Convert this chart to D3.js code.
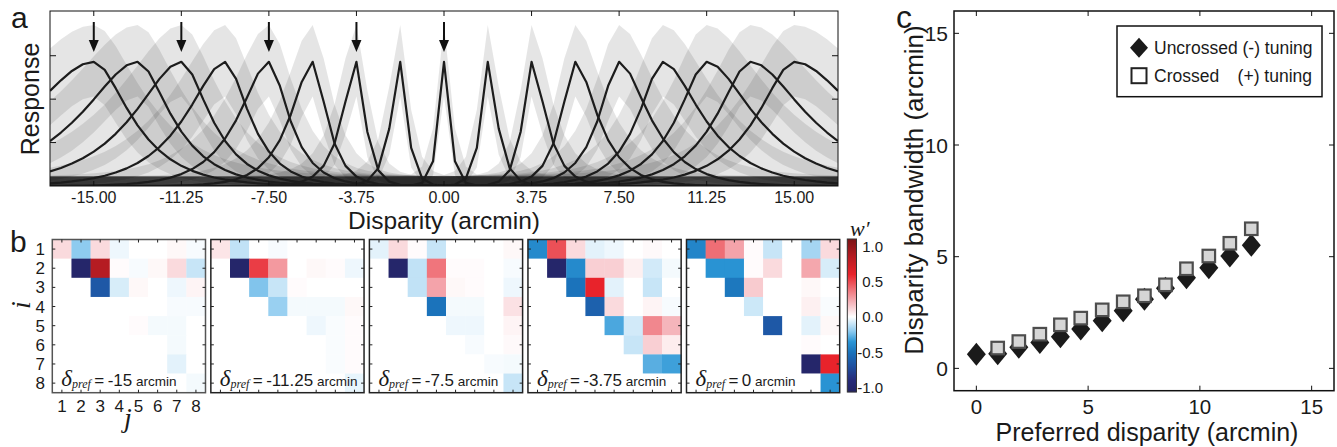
<!DOCTYPE html>
<html><head><meta charset="utf-8">
<script src="https://cdn.jsdelivr.net/npm/d3@7"></script>
<style>
body{margin:0;background:#fff}
svg{display:block}
text{font-family:"Liberation Sans",Arial,Helvetica,sans-serif;fill:#1a1a1a}
.serif{font-family:"Liberation Serif","Times New Roman",serif;font-style:italic}
</style>
</head><body>
<svg id="chart" width="1337" height="447"></svg>
<script>
// ================= DATA =================
// Panel a: population tuning curves (preferred disparity, inner/outer tuning widths, arcmin)
const prefDisparities = [-15,-13.125,-11.25,-9.375,-7.5,-5.625,-3.75,-1.875,0,1.875,3.75,5.625,7.5,9.375,11.25,13.125,15];
const widthOuter = [3.0,2.5,2.1,1.7,1.3,0.95,0.6,0.38,0.22,0.38,0.6,0.95,1.3,1.7,2.1,2.5,3.0];
const widthInner = [1.6,1.45,1.25,1.05,0.85,0.6,0.36,0.28,0.22,0.28,0.36,0.6,0.85,1.05,1.25,1.45,1.6];
const peakResponse = 2.86;
const arrowDisparities = [-15,-11.25,-7.5,-3.75,0];
const disparityTicks = [-15,-11.25,-7.5,-3.75,0,3.75,7.5,11.25,15];
const disparityTickLabels = ["-15.00","-11.25","-7.50","-3.75","0.00","3.75","7.50","11.25","15.00"];
const responseTicks = [1,2,3];

// Panel b: weight matrices w' (rows i, cols j)
const matrixNames = ["-15","-11.25","-7.5","-3.75","0"];
const W_m15 = [
 [0.1,-0.2,0.1,-0.03,0,0,0.02,-0.015],
 [0,-1.0,0.85,0.01,-0.015,0.02,0.1,-0.1],
 [0,0,-0.65,-0.07,0.02,0,-0.03,0.03],
 [0,0,0,0,0,0,-0.015,-0.015],
 [0,0,0,0,0.01,-0.02,-0.02,0],
 [0,0,0,0,0,0,-0.02,0],
 [0,0,0,0,0,0,-0.05,0],
 [0,0,0,0,0,0,0,-0.02]];
const W_m11 = [
 [0.07,-0.11,0,-0.015,0,0,0,0],
 [0,-1.0,0.53,0.28,0,0.02,0.01,-0.03],
 [0,0,-0.22,-0.1,0.01,0,0,0],
 [0,0,0,-0.18,-0.02,-0.02,-0.02,0.02],
 [0,0,0,0,0,-0.03,-0.01,0.01],
 [0,0,0,0,0,0,-0.01,0.01],
 [0,0,0,0,0,0,-0.01,0.01],
 [0,0,0,0,0,0,0,-0.04]];
const W_m7 = [
 [-0.05,0.1,0.01,-0.1,0,0,0,0.02],
 [0,-1.0,-0.11,0.38,0.01,0.01,0,-0.015],
 [0,0,-0.11,0.25,0.02,0.01,0,-0.03],
 [0,0,0,-0.5,-0.02,-0.02,0,0.08],
 [0,0,0,0,-0.03,-0.03,0,0.03],
 [0,0,0,0,0,-0.015,0,0.015],
 [0,0,0,0,0,0,-0.015,-0.02],
 [0,0,0,0,0,0,0,-0.1]];
const W_m3 = [
 [-0.4,0.48,0.1,-0.05,-0.03,0,0.015,0],
 [0,-1.0,-0.4,0.13,0.13,0.04,-0.08,-0.02],
 [0,0,-0.5,0.6,-0.05,0,-0.1,0],
 [0,0,0,-0.6,0.1,0,0.03,-0.015],
 [0,0,0,0,-0.3,-0.08,0.33,0.2],
 [0,0,0,0,0,-0.1,0.13,0.05],
 [0,0,0,0,0,0,-0.28,-0.32],
 [0,0,0,0,0,0,0,0]];
const W_0 = [
 [-0.42,0.4,0.25,0.01,-0.1,0,-0.16,0.1],
 [0,-0.36,-0.36,0.01,0.1,0,0.24,-0.07],
 [0,0,-0.48,0.14,0,0,0.02,0],
 [0,0,0,-0.09,0,0,0.04,-0.01],
 [0,0,0,0,-0.65,0,-0.05,0.02],
 [0,0,0,0,0,0,0.01,0],
 [0,0,0,0,0,0,-1.0,0.6],
 [0,0,0,0,0,0,0,-0.36]];
const matrixIndex = [1,2,3,4,5,6,7,8];
const colorbarTicks = [1.0,0.5,0.0,-0.5,-1.0];
const cmapStops = [-1.08,-0.9,-0.7,-0.5,-0.35,-0.2,0,0.2,0.4,0.6,0.85,1.1];
const cmapColors = ["#23225f","#272a78","#1f4f9f","#1b73bb","#2a95d5","#8ecbef","#ffffff","#f5b5bb","#ef6e75","#e8232b","#b51c22","#7a1416"];

// Panel c: disparity bandwidth vs preferred disparity
const uncrossedPref = [0,0.955,1.9,2.84,3.76,4.67,5.63,6.57,7.52,8.46,9.4,10.4,11.34,12.3];
const uncrossedBW   = [0.63,0.65,0.94,1.16,1.41,1.76,2.13,2.58,3.1,3.59,4.06,4.51,5.03,5.51];
const crossedPref   = [0.955,1.9,2.84,3.76,4.67,5.63,6.57,7.52,8.46,9.4,10.4,11.34,12.3];
const crossedBW     = [0.91,1.2,1.53,1.95,2.25,2.62,2.98,3.25,3.74,4.46,5.03,5.6,6.25];
const cTicks = [0,5,10,15];

// ================= DRAW =================
const svg = d3.select("#chart");

// ---------- Panel a ----------
const A = {x0:50,x1:838,y0:11,y1:186};
const ax = d3.scaleLinear().domain([-16.875,16.875]).range([A.x0,A.x1]);
const ay = d3.scaleLinear().domain([0,4.03]).range([A.y1,A.y0]);
const grid = d3.range(-16.875,16.875+1e-9,0.46875);
function shape(dx,lam){const c=0.6*lam;return Math.exp(-(Math.sqrt(dx*dx+c*c)-c)/lam);}
function lam(k,dx){const mu=prefDisparities[k];const out=(mu<0&&dx<0)||(mu>0&&dx>0);return out?widthOuter[k]:widthInner[k];}

svg.append("clipPath").attr("id","clipA").append("rect")
  .attr("x",A.x0).attr("y",A.y0).attr("width",A.x1-A.x0).attr("height",A.y1-A.y0);
const ga = svg.append("g").attr("clip-path","url(#clipA)");

const bandArea = d3.area().x(d=>ax(d.x)).y0(d=>ay(d.lo)).y1(d=>ay(d.hi));
prefDisparities.forEach((mu,k)=>{
  const pts = grid.map(x=>{const dx=x-mu;const l=lam(k,dx);
    return {x, hi:1.22*peakResponse*shape(dx,1.3*l)+0.22, lo:0.72*peakResponse*shape(dx,0.8*l)};});
  ga.append("path").datum(pts).attr("d",bandArea).attr("fill","#000").attr("fill-opacity",0.1);
});
const meanLine = d3.line().x(d=>ax(d.x)).y(d=>ay(d.r));
prefDisparities.forEach((mu,k)=>{
  const pts = grid.map(x=>{const dx=x-mu;return {x, r:peakResponse*shape(dx,lam(k,dx))};});
  ga.append("path").datum(pts).attr("d",meanLine).attr("fill","none")
    .attr("stroke","#1c1c1c").attr("stroke-width",2.2).attr("stroke-linejoin","round");
});
// arrows
arrowDisparities.forEach(d=>{
  const x=ax(d);
  svg.append("line").attr("x1",x).attr("x2",x).attr("y1",22).attr("y2",46).attr("stroke","#111").attr("stroke-width",2);
  svg.append("path").attr("d",`M${x-5},${40} L${x+5},${40} L${x},${52} Z`).attr("fill","#111");
});
// frame & ticks
svg.append("rect").attr("x",A.x0).attr("y",A.y0).attr("width",A.x1-A.x0).attr("height",A.y1-A.y0)
  .attr("fill","none").attr("stroke","#111").attr("stroke-width",1);
disparityTicks.forEach(t=>{
  svg.append("line").attr("x1",ax(t)).attr("x2",ax(t)).attr("y1",A.y0).attr("y2",A.y0+5).attr("stroke","#111");
  svg.append("line").attr("x1",ax(t)).attr("x2",ax(t)).attr("y1",A.y1).attr("y2",A.y1-5).attr("stroke","#111");
});
responseTicks.forEach(t=>{
  svg.append("line").attr("x1",A.x0).attr("x2",A.x0+6).attr("y1",ay(t)).attr("y2",ay(t)).attr("stroke","#111");
  svg.append("line").attr("x1",A.x1).attr("x2",A.x1-6).attr("y1",ay(t)).attr("y2",ay(t)).attr("stroke","#111");
});
svg.append("g").selectAll("text").data(disparityTicks).join("text")
  .attr("x",d=>ax(d)).attr("y",202.5).attr("text-anchor","middle").attr("font-size",16)
  .text((d,i)=>disparityTickLabels[i]);
svg.append("text").attr("x",444).attr("y",228.5).attr("text-anchor","middle").attr("font-size",24.5).text("Disparity (arcmin)");
svg.append("text").attr("transform","translate(39,99) rotate(-90)").attr("text-anchor","middle").attr("font-size",25).text("Response");
svg.append("text").attr("x",11).attr("y",28).attr("font-size",30).text("a");

// ---------- Panel b ----------
const matrices = [W_m15,W_m11,W_m7,W_m3,W_0];
const mx = d3.scaleLinear().domain([0,4]).range([52.3,686.5]);
const MY = 239.5, MS = 153.2;
const cell = d3.scaleBand().domain(matrixIndex).range([0,MS]);
const cmap = d3.scaleLinear().domain(cmapStops).range(cmapColors).clamp(true);
matrices.forEach((M,m)=>{
  const g = svg.append("g").attr("transform",`translate(${mx(m)},${MY})`);
  M.forEach((row,i)=>row.forEach((v,j)=>{
    g.append("rect").attr("x",cell(j+1)).attr("y",cell(i+1))
      .attr("width",cell.bandwidth()+0.3).attr("height",cell.bandwidth()+0.3).attr("fill",cmap(v));
  }));
  g.append("rect").attr("width",MS).attr("height",MS).attr("fill","none").attr("stroke",m===0?"#555":"#222").attr("stroke-width",1.5);
  matrixIndex.forEach(t=>{
    const p = cell(t)+cell.bandwidth()/2;
    g.append("line").attr("x1",0).attr("x2",3).attr("y1",p).attr("y2",p).attr("stroke","#222");
    g.append("line").attr("x1",MS).attr("x2",MS-3).attr("y1",p).attr("y2",p).attr("stroke","#222");
    g.append("line").attr("y1",0).attr("y2",3).attr("x1",p).attr("x2",p).attr("stroke","#222");
    g.append("line").attr("y1",MS).attr("y2",MS-3).attr("x1",p).attr("x2",p).attr("stroke","#222");
  });
  const t = g.append("text").attr("x",9).attr("y",146);
  t.append("tspan").attr("class","serif").attr("font-size",23).text("δ");
  t.append("tspan").attr("class","serif").attr("font-size",12).attr("dy",2).text("pref");
  t.append("tspan").attr("font-size",17).attr("dy",-2).text("\u2009=\u2009"+matrixNames[m]);
  t.append("tspan").attr("font-size",13.5).text(" arcmin");
});
// row / column labels for first matrix
svg.append("g").selectAll("text").data(matrixIndex).join("text")
  .attr("x",45).attr("y",d=>MY+cell(d)+cell.bandwidth()/2+6).attr("text-anchor","end").attr("font-size",17).text(d=>d);
svg.append("g").selectAll("text").data(matrixIndex).join("text")
  .attr("x",d=>mx(0)+cell(d)+cell.bandwidth()/2).attr("y",411.5).attr("text-anchor","middle").attr("font-size",17).text(d=>d);
svg.append("text").attr("class","serif").attr("transform","translate(30,305) rotate(-90)").attr("text-anchor","middle").attr("font-size",28).text("i");
svg.append("text").attr("class","serif").attr("x",128).attr("y",427).attr("text-anchor","middle").attr("font-size",28).text("j");
svg.append("text").attr("x",10).attr("y",252).attr("font-size",30).text("b");
// colorbar
const cb = d3.scaleLinear().domain([-1.06,1.1]).range([392,239]);
const cbx = 847.3, cbw = 9.2;
d3.range(0,153,1).forEach(k=>{
  svg.append("rect").attr("x",cbx).attr("y",239+k).attr("width",cbw).attr("height",1.2)
    .attr("fill",cmap(cb.invert(239+k+0.5)));
});
svg.append("rect").attr("x",cbx).attr("y",239).attr("width",cbw).attr("height",153).attr("fill","none").attr("stroke","#333").attr("stroke-width",1);
svg.append("g").selectAll("text").data(colorbarTicks).join("text")
  .attr("x",883).attr("y",d=>cb(d)+5.5).attr("text-anchor","end").attr("font-size",15).text(d=>d.toFixed(1));
svg.append("text").attr("class","serif").attr("x",850).attr("y",236).attr("font-size",22).text("w\u2032");

// ---------- Panel c ----------
const cx = d3.scaleLinear().domain([-1,16]).range([954,1334]);
const cy = d3.scaleLinear().domain([-1,16]).range([390.7,11]);
svg.append("rect").attr("x",954).attr("y",11).attr("width",380).attr("height",379.7).attr("fill","none").attr("stroke","#111").attr("stroke-width",1.5);
cTicks.forEach(t=>{
  svg.append("line").attr("x1",cx(t)).attr("x2",cx(t)).attr("y1",390.7).attr("y2",385.7).attr("stroke","#111");
  svg.append("line").attr("x1",cx(t)).attr("x2",cx(t)).attr("y1",11).attr("y2",16).attr("stroke","#111");
  svg.append("line").attr("y1",cy(t)).attr("y2",cy(t)).attr("x1",954).attr("x2",959).attr("stroke","#111");
  svg.append("line").attr("y1",cy(t)).attr("y2",cy(t)).attr("x1",1334).attr("x2",1329).attr("stroke","#111");
});
svg.append("g").selectAll("text").data(cTicks).join("text")
  .attr("x",d=>cx(d)).attr("y",413.5).attr("text-anchor","middle").attr("font-size",20.5).text(d=>d);
svg.append("g").selectAll("text").data(cTicks).join("text")
  .attr("x",948).attr("y",d=>cy(d)+7.5).attr("text-anchor","end").attr("font-size",21).text(d=>d);
svg.append("text").attr("x",1147).attr("y",441).attr("text-anchor","middle").attr("font-size",25).text("Preferred disparity (arcmin)");
svg.append("text").attr("transform","translate(923,190) rotate(-90)").attr("text-anchor","middle").attr("font-size",26).text("Disparity bandwidth (arcmin)");
svg.append("text").attr("x",896).attr("y",28).attr("font-size",32).text("c");
const diamond=(x,y,w,h)=>`M${x},${y-h}L${x+w},${y}L${x},${y+h}L${x-w},${y}Z`;
svg.append("g").selectAll("path").data(uncrossedPref).join("path")
  .attr("d",(d,i)=>diamond(cx(d),cy(uncrossedBW[i]),9.5,11.5)).attr("fill","#1a1a1a");
svg.append("g").selectAll("rect").data(crossedPref).join("rect")
  .attr("x",d=>cx(d)-6.25).attr("y",(d,i)=>cy(crossedBW[i])-6.25).attr("width",12.5).attr("height",12.5)
  .attr("fill","#d6d6d6").attr("stroke","#4d4d4d").attr("stroke-width",2.2);
// legend
svg.append("rect").attr("x",1117).attr("y",26).attr("width",205).attr("height",70.7).attr("fill","#fff").attr("stroke","#111").attr("stroke-width",1.5);
svg.append("path").attr("d",diamond(1139,47.7,9,10)).attr("fill","#1a1a1a");
svg.append("rect").attr("x",1131.5).attr("y",68.2).attr("width",15).attr("height",15).attr("fill","#fff").attr("stroke","#222").attr("stroke-width",2);
svg.append("text").attr("x",1154).attr("y",54).attr("font-size",17.5).text("Uncrossed (-) tuning");
svg.append("text").attr("x",1154).attr("y",82).attr("font-size",17.5).text("Crossed");
svg.append("text").attr("x",1312).attr("y",82).attr("text-anchor","end").attr("font-size",17.5).text("(+) tuning");
</script>
</body></html>
